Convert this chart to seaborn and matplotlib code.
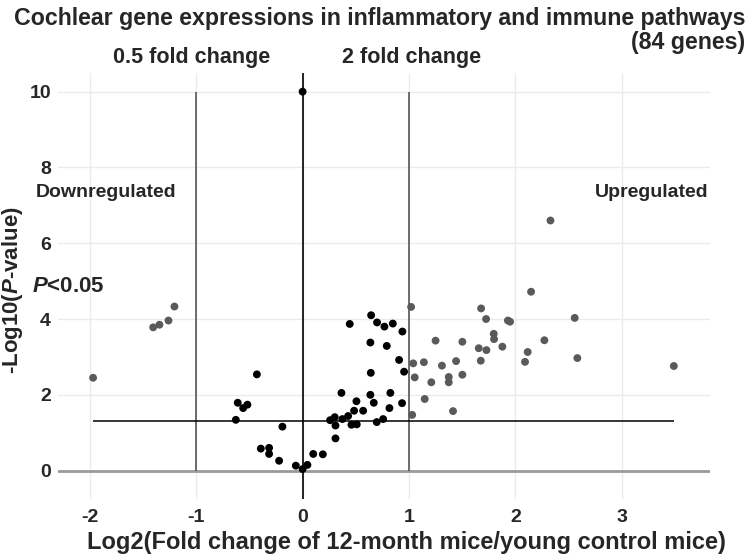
import numpy as np
import pandas as pd
import seaborn as sns
import matplotlib.pyplot as plt

# values (84 genes)
log2_fc = [
    -1.97, -1.405, -1.346, -1.261, -1.205,
    -0.628, -0.61, -0.559, -0.519, -0.43, -0.393, -0.315, -0.315, -0.221, -0.19,
    -0.064, 0.0, 0.0, 0.045, 0.10, 0.19, 0.309, 0.258, 0.302, 0.309,
    0.374, 0.428, 0.459, 0.509, 0.484, 0.506, 0.569, 0.365, 0.443, 0.644,
    0.70, 0.769, 0.848, 0.938, 0.637, 0.791, 0.907, 0.954, 0.641, 0.637,
    0.825, 0.669, 0.816, 0.935, 0.697, 0.757,
    1.02, 1.25, 1.04, 1.14, 1.31, 1.054, 1.21, 1.374, 1.374, 1.148,
    1.03, 2.33, 2.148, 1.678, 1.725, 1.93, 1.95, 2.558, 1.797, 1.80,
    1.502, 1.656, 1.728, 1.878, 2.273, 2.116, 2.091, 2.583, 3.49, 1.443,
    1.675, 1.502, 1.414,
]
neg_log10_p = [
    2.45, 3.78, 3.85, 3.96, 4.33,
    1.34, 1.79, 1.65, 1.74, 2.54, 0.58, 0.60, 0.44, 0.26, 1.16,
    0.13, 0.04, 10.0, 0.15, 0.44, 0.43, 0.85, 1.33, 1.41, 1.19,
    1.36, 1.44, 1.21, 1.22, 1.58, 1.83, 1.58, 2.05, 3.87, 4.10,
    3.91, 3.80, 3.88, 3.67, 3.38, 3.29, 2.92, 2.61, 2.58, 2.00,
    2.05, 1.79, 1.65, 1.78, 1.28, 1.36,
    4.32, 3.43, 2.83, 2.86, 2.77, 2.46, 2.33, 2.47, 2.33, 1.89,
    1.47, 6.60, 4.72, 4.28, 4.00, 3.96, 3.93, 4.03, 3.61, 3.47,
    3.40, 3.23, 3.18, 3.27, 3.44, 3.13, 2.87, 2.97, 2.76, 2.89,
    2.90, 2.53, 1.57,
]
x_ticks = [-2, -1, 0, 1, 2, 3]
y_ticks = [0, 2, 4, 6, 8, 10]
fold_cut = [-1, 1]
p_cut = -np.log10(0.05)

sns.set_style("white")
font = "Liberation Sans"
plt.rcParams["font.family"] = [font, "DejaVu Sans"]
plt.rcParams["font.weight"] = "bold"
plt.rcParams["axes.labelweight"] = "bold"
plt.rcParams["axes.unicode_minus"] = False
plt.rcParams["mathtext.fontset"] = "custom"
plt.rcParams["mathtext.it"] = font + ":italic:bold"
plt.rcParams["mathtext.rm"] = font + ":bold"

df = pd.DataFrame({"fc": log2_fc, "p": neg_log10_p})
df["group"] = np.where(df["fc"].abs() >= 1, "changed", "unchanged")

fig = plt.figure(figsize=(7.51, 5.59), dpi=100)
ax = fig.add_axes([0.0772, 0.1073, 0.8682, 0.7626])

ax.set_xlim(-2.30, 3.83)
ax.set_ylim(-0.75, 10.5)
ax.set_xticks(x_ticks)
ax.set_yticks(y_ticks)
ax.grid(True, color="#ebebeb", lw=1)
ax.set_axisbelow(True)
for sp in ax.spines.values():
    sp.set_visible(False)
ax.tick_params(length=0, labelsize=14)
ax.tick_params(axis="x", pad=7)
ax.tick_params(axis="y", pad=5)

ax.axhline(0, color="#9a9a9a", lw=2, zorder=1)
ax.axvline(0, color="black", lw=1.2, zorder=2)
ax.vlines(fold_cut, 0, 10, color="#555555", lw=1.2, zorder=2)
ax.hlines(p_cut, min(log2_fc), max(log2_fc), color="black", lw=1.1, zorder=2)

sns.scatterplot(data=df, x="fc", y="p", hue="group",
                palette={"changed": "#5a5a5a", "unchanged": "black"},
                s=32, edgecolor="none", legend=False, ax=ax, zorder=3)

ax.set_xlabel("Log2(Fold change of 12-month mice/young control mice)", fontsize=17)
ax.xaxis.set_label_coords(0.535, -0.102)
ax.xaxis.label.set_va("center")
ax.set_ylabel("-Log10($P$-value)", fontsize=16)
ax.yaxis.set_label_coords(-0.069, 0.49)
ax.yaxis.label.set_va("center")

W, H = 751, 559
fig.text(745 / W, 1 - 18 / H, "Cochlear gene expressions in inflammatory and immune pathways",
         ha="right", va="center", fontsize=16.7)
fig.text(745 / W, 1 - 42 / H, "(84 genes)", ha="right", va="center", fontsize=16.7)
fig.text(192 / W, 1 - 58 / H, "0.5 fold change", ha="center", va="center", fontsize=15.5)
fig.text(412 / W, 1 - 58 / H, "2 fold change", ha="center", va="center", fontsize=15.5)
fig.text(36 / W, 1 - 193 / H, "Downregulated", ha="left", va="center", fontsize=14)
fig.text(708 / W, 1 - 193 / H, "Upregulated", ha="right", va="center", fontsize=14)
fig.text(32 / W, 1 - 287 / H, "$P$<0.05", ha="left", va="center", fontsize=16)

fig.savefig("out.png", dpi=100)
